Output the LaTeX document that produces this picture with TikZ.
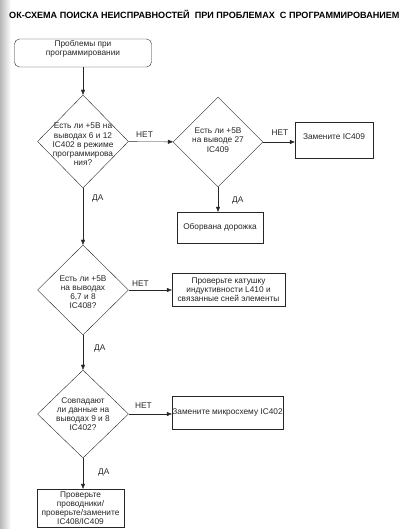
\documentclass[tikz,border=0pt]{standalone}
\usepackage{fontspec}
\setmainfont{Liberation Sans}
\usetikzlibrary{arrows.meta}
\usetikzlibrary{shapes.geometric}

\begin{document}
\begin{tikzpicture}[x=1pt, y=-1pt, ->, >={Triangle[length=5pt, width=4pt]}, thin, draw=black!85,
    txt/.style = {font=\fontsize{8.3}{9.2}\selectfont, align=center, inner sep=0pt, text=black!85},
    lbl/.style = {font=\fontsize{8.3}{9.2}\selectfont, inner sep=0pt, text=black!85},
    box/.style 2 args = {draw, rectangle, minimum width=#1, minimum height=#2, txt},
    decision/.style 2 args = {draw, diamond, minimum width=#1, minimum height=#2, inner sep=0pt}]
    \useasboundingbox (0,0) rectangle (401,529);
    \shade[left color=black!28, right color=white] (0,0) rectangle (11,529);

    % Nodes
    \node[anchor=west, inner sep=0pt, font=\bfseries\fontsize{9.08}{11}\selectfont] (title) at (9,14)
        {ОК-СХЕМА ПОИСКА НЕИСПРАВНОСТЕЙ\ \ ПРИ ПРОБЛЕМАХ\ \ С ПРОГРАММИРОВАНИЕМ};

    \node[box={137}{28}, rounded corners=5pt] (start) at (83,53) {};
    \node[txt] at ([yshift=4.5pt]start.center) {Проблемы при\\программировании};

    \node[decision={91}{93}] (q1) at (83,141.5) {};
    \node[txt] at ([yshift=-3pt]q1.center) {Есть ли +5В на\\выводах 6 и 12\\IC402 в режиме\\программирова\\ния?};

    \node[decision={90}{90}] (q2) at (218,142) {};
    \node[txt] at ([yshift=2pt]q2.center) {Есть ли +5В\\на выводе 27\\IC409};

    \node[box={78}{36}] (r409) at (334,140) {};
    \node[txt] at ([yshift=3pt]r409.center) {Замените IC409};

    \node[box={86}{31}] (broken) at (220,227.5) {Оборвана дорожка};

    \node[decision={91}{90}] (q3) at (83,290) {};
    \node[txt] at ([yshift=-2pt]q3.center) {Есть ли +5В\\на выводах\\6,7 и 8\\IC408?};

    \node[box={113}{33}] (coil) at (228.5,289.5) {Проверьте катушку\\индуктивности L410 и\\связанные сней элементы};

    \node[decision={91}{88}] (q4) at (83,414) {};
    \node[txt] at (q4.center) {Совпадают\\ли данные на\\выводах 9 и 8\\IC402?};

    \node[box={111}{33}] (r402) at (227.5,412.5) {Замените микросхему IC402};

    \node[box={87}{38}] (check) at (80.5,508) {Проверьте\\проводники/\\проверьте/замените\\IC408/IC409};

    % Edges
    \draw (start) -- (q1);

    \draw (q1) to node[lbl, pos=0.36, above=4pt] {НЕТ} (q2);
    \draw (q2.east) to node[lbl, pos=0.53, above=6pt] {НЕТ} (q2.east -| r409.west);
    \draw (q2.south) to node[lbl, pos=0.52, right=14pt] {ДА} (q2.south |- broken.north);

    \draw (q1) to node[lbl, pos=0.175, right=9pt] {ДА} (q3);
    \draw (q3.east) to node[lbl, pos=0.27, above=3pt] {НЕТ} (q3.east -| coil.west);

    \draw (q3) to node[lbl, pos=0.37, right=11pt] {ДА} (q4);
    \draw (q4.east) to node[lbl, pos=0.34, above=5pt] {НЕТ} (q4.east -| r402.west);
    \draw (q4.south) to node[lbl, pos=0.45, right=15pt] {ДА} (q4.south |- check.north);

\end{tikzpicture}
\end{document}
